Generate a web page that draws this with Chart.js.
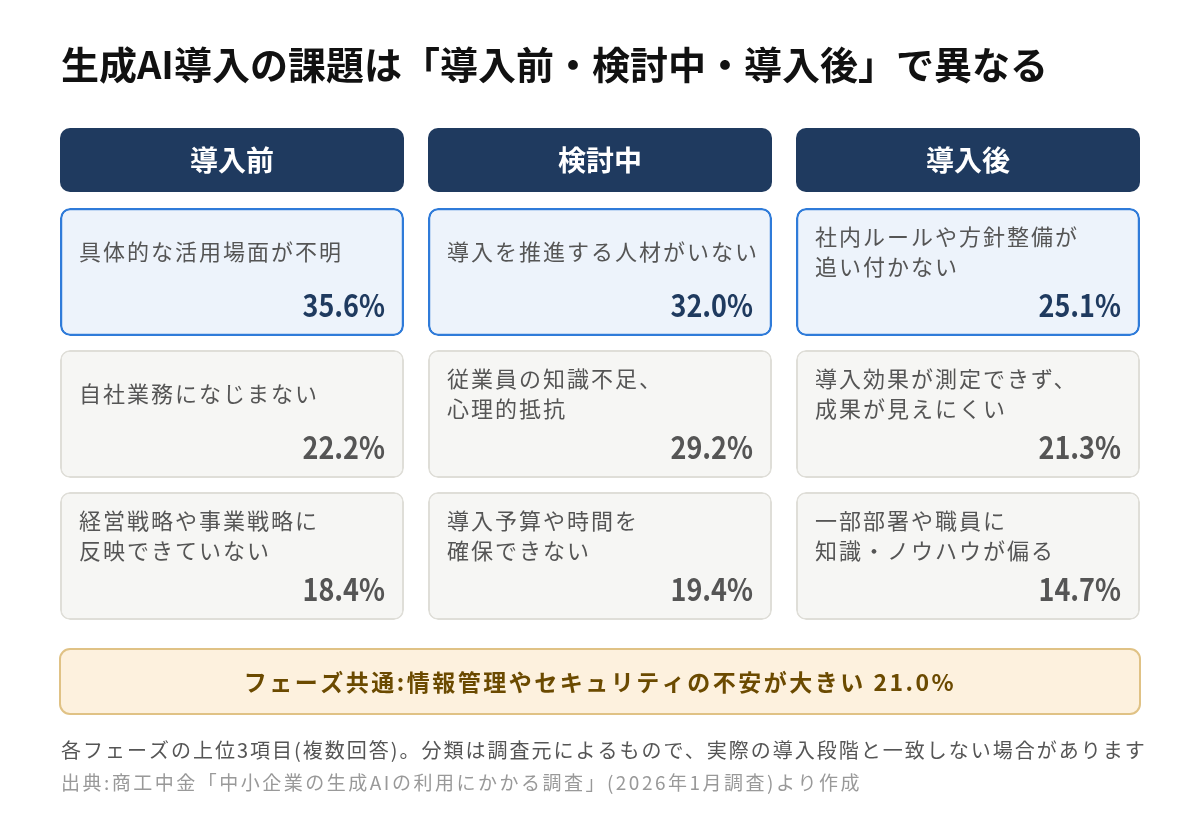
<!DOCTYPE html>
<html lang="ja">
<head>
<meta charset="utf-8">
<title>生成AI導入の課題</title>
<script src="https://cdn.jsdelivr.net/npm/chart.js@4"></script>
<style>
  html, body { margin: 0; padding: 0; background: #ffffff; }
  #wrap { width: 1200px; height: 824px; position: relative; }
</style>
</head>
<body>
<div id="wrap"><canvas id="chart" width="1200" height="824"></canvas></div>
<script>
// データ
const phases = ['導入前', '検討中', '導入後'];
const ranks = [1, 2, 3];
const issueLabels = [
    ['具体的な活用場面が不明', '自社業務になじまない', '経営戦略や事業戦略に\n反映できていない'],
    ['導入を推進する人材がいない', '従業員の知識不足、\n心理的抵抗', '導入予算や時間を\n確保できない'],
    ['社内ルールや方針整備が\n追い付かない', '導入効果が測定できず、\n成果が見えにくい', '一部部署や職員に\n知識・ノウハウが偏る']
];
const issueValues = [
    [35.6, 22.2, 18.4],
    [32.0, 29.2, 19.4],
    [25.1, 21.3, 14.7]
];
const commonLabel = 'フェーズ共通:情報管理やセキュリティの不安が大きい';
const commonValue = 21.0;
const titleText = '生成AI導入の課題は「導入前・検討中・導入後」で異なる';
const noteText = '各フェーズの上位3項目(複数回答)。分類は調査元によるもので、実際の導入段階と一致しない場合があります';
const sourceText = '出典:商工中金「中小企業の生成AIの利用にかかる調査」(2026年1月調査)より作成';

const FONT = '"Noto Sans CJK JP", "Noto Sans", sans-serif';
const NAVY = '#1f3a5f';

// カード1枚 = 浮動バー(ランクの位置 → ランク+cardFill)
const cardFill = 128 / 142;
const datasets = ranks.map((r, ri) => ({
    label: '第' + r + '位',
    data: phases.map(() => [ri, ri + cardFill]),
    issues: phases.map((p, pi) => issueLabels[pi][ri]),
    values: phases.map((p, pi) => issueValues[pi][ri]),
    backgroundColor: ri === 0 ? '#edf3fb' : '#f6f6f4',
    borderColor: ri === 0 ? '#2f7bd9' : '#dfded8',
    borderWidth: ri === 0 ? 2.5 : 2,
    borderSkipped: false,
    borderRadius: 10,
    barPercentage: 1,
    categoryPercentage: 344 / 368,
    grouped: false
}));

function roundRect(ctx, x, y, w, h, r) {
    ctx.beginPath();
    ctx.roundRect(x, y, w, h, r);
}

// 数字は縦長気味に描く
function narrowText(ctx, txt, x, y, sx) {
    ctx.save();
    ctx.translate(x, y);
    ctx.scale(sx, 1);
    ctx.fillText(txt, 0, 0);
    ctx.restore();
}

const cardText = {
    id: 'cardText',
    afterDatasetsDraw(chart) {
        const ctx = chart.ctx;
        const xs = chart.scales.x;
        const area = chart.chartArea;
        ctx.save();

        // タイトル
        ctx.fillStyle = '#111111';
        ctx.font = 'bold 38px ' + FONT;
        ctx.textBaseline = 'middle';
        ctx.textAlign = 'left';
        ctx.fillText(titleText, 61, 65);

        // フェーズ見出し (x軸のカテゴリ位置)
        const meta0 = chart.getDatasetMeta(0);
        phases.forEach((p, i) => {
            const cx = xs.getPixelForValue(i);
            const w = meta0.data[i].width;
            ctx.fillStyle = NAVY;
            roundRect(ctx, cx - w / 2, area.top - 80, w, 64, 10);
            ctx.fill();
            ctx.fillStyle = '#ffffff';
            ctx.font = 'bold 28px ' + FONT;
            ctx.textAlign = 'center';
            ctx.fillText(p, cx, area.top - 48);
        });

        // カード内テキスト
        chart.data.datasets.forEach((ds, di) => {
            const meta = chart.getDatasetMeta(di);
            meta.data.forEach((bar, i) => {
                const top = Math.min(bar.y, bar.base);
                const left = bar.x - bar.width / 2;
                const right = bar.x + bar.width / 2;
                const lines = ds.issues[i].split('\n');
                ctx.fillStyle = '#555555';
                ctx.font = '22px ' + FONT;
                ctx.textAlign = 'left';
                ctx.letterSpacing = '2px';
                const mid = top + 44;
                lines.forEach((ln, k) => {
                    ctx.fillText(ln, left + 19, mid + (k - (lines.length - 1) / 2) * 30);
                });
                ctx.letterSpacing = '0px';
                ctx.fillStyle = di === 0 ? NAVY : '#555555';
                ctx.font = 'bold 31px ' + FONT;
                ctx.textAlign = 'right';
                narrowText(ctx, ds.values[i].toFixed(1) + '%', right - 19, top + 97, 0.87);
            });
        });

        // 共通課題の帯
        const bl = xs.getPixelForValue(0) - meta0.data[0].width / 2;
        const br = xs.getPixelForValue(phases.length - 1) + meta0.data[0].width / 2;
        ctx.fillStyle = '#fdf1de';
        ctx.strokeStyle = '#e0c285';
        ctx.lineWidth = 2;
        roundRect(ctx, bl, area.bottom + 15, br - bl, 65, 10);
        ctx.fill();
        ctx.stroke();
        ctx.fillStyle = '#6b4a00';
        ctx.font = 'bold 23px ' + FONT;
        ctx.textAlign = 'center';
        ctx.letterSpacing = '2.5px';
        ctx.fillText(commonLabel + ' ' + commonValue.toFixed(1) + '%', (bl + br) / 2, area.bottom + 48);

        // 注記
        ctx.textAlign = 'left';
        ctx.fillStyle = '#555555';
        ctx.font = '20px ' + FONT;
        ctx.letterSpacing = '2px';
        ctx.fillText(noteText, 61, 750);
        ctx.fillStyle = '#999999';
        ctx.font = '19px ' + FONT;
        ctx.letterSpacing = '2.5px';
        ctx.fillText(sourceText, 61, 783);
        ctx.letterSpacing = '0px';
        ctx.restore();
    }
};

new Chart(document.getElementById('chart'), {
    type: 'bar',
    data: { labels: phases, datasets: datasets },
    options: {
        responsive: false,
        animation: false,
        devicePixelRatio: 1,
        layout: { padding: { top: 208, bottom: 190, left: 48, right: 48 } },
        plugins: { legend: { display: false }, tooltip: { enabled: false } },
        scales: {
            x: { type: 'category', display: false, offset: true },
            y: { type: 'linear', display: false, min: 0, max: ranks.length, reverse: true }
        }
    },
    plugins: [cardText]
});
</script>
</body>
</html>
